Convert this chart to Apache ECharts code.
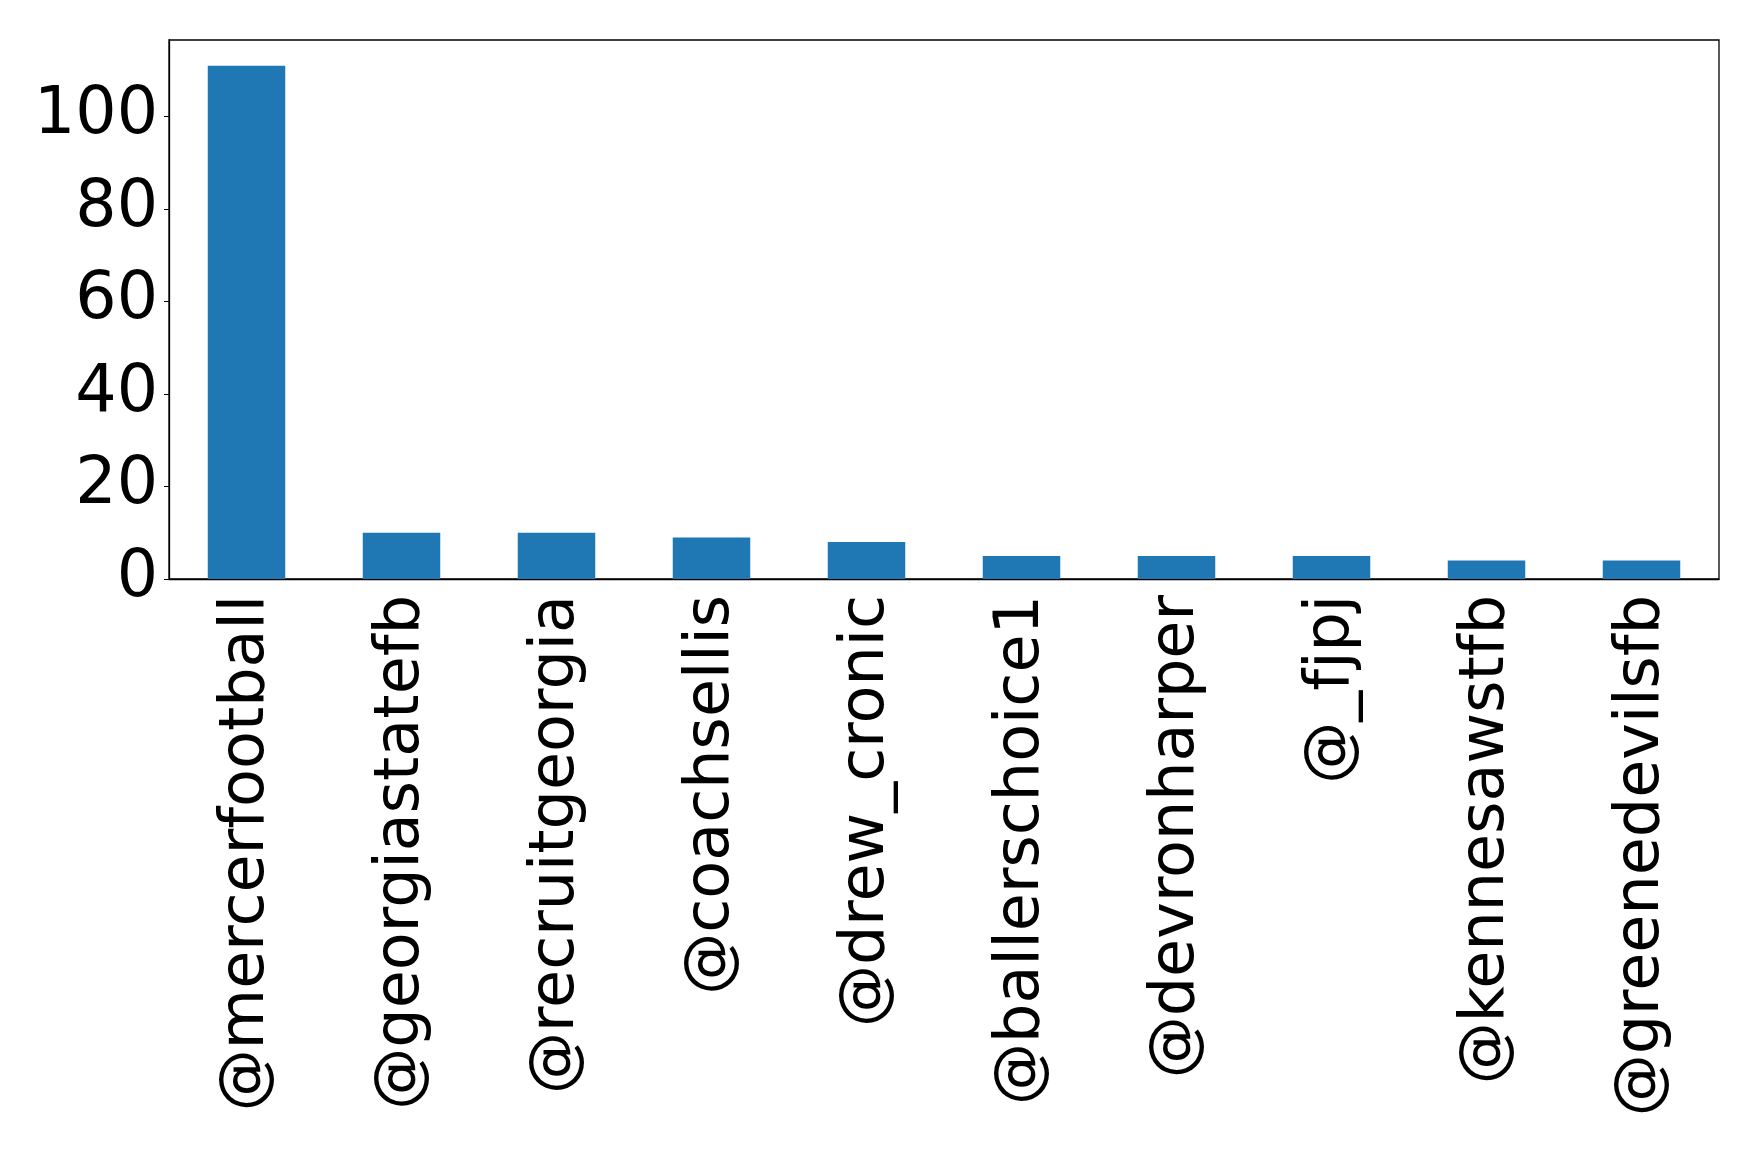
<!DOCTYPE html>
<html>
<head>
    <meta charset="UTF-8">
    <title>mentions</title>
    <script src="https://cdn.jsdelivr.net/npm/echarts@6/dist/echarts.min.js"></script>
    <style>
        html, body { margin: 0; padding: 0; background: #fff; }
        #main { width: 1758px; height: 1154px; }
    </style>
</head>
<body>
<div id="main"></div>
<script type="text/javascript">
    // data
    var handles = ['@mercerfootball', '@georgiastatefb', '@recruitgeorgia', '@coachsellis', '@drew_cronic',
        '@ballerschoice1', '@devronharper', '@_fjpj', '@kennesawstfb', '@greenedevilsfb'];
    var counts = [111, 10, 10, 9, 8, 5, 5, 5, 4, 4];
    var yTicks = [0, 20, 40, 60, 80, 100];

    var myChart = echarts.init(document.getElementById('main'));

    var option = {
        animation: false,
        grid: {
            left: 169,
            right: 39,
            top: 40,
            bottom: 575,
            show: true,
            borderColor: '#000',
            borderWidth: 1.3,
            containLabel: false
        },
        xAxis: {
            type: 'category',
            data: handles,
            boundaryGap: true,
            axisLine: { lineStyle: { color: '#000', width: 1.3 } },
            axisTick: { alignWithLabel: true, length: 5, lineStyle: { color: '#000' } },
            axisLabel: {
                rotate: 90, margin: 16, interval: 0,
                fontFamily: 'DejaVu Sans', fontSize: 62, color: '#000'
            },
            splitLine: { show: false }
        },
        yAxis: {
            type: 'value',
            min: 0,
            max: Math.max.apply(null, counts) * 1.05,
            axisLine: { show: true, lineStyle: { color: '#000', width: 1.3 } },
            axisTick: { show: true, length: 5, customValues: yTicks, lineStyle: { color: '#000' } },
            axisLabel: {
                margin: 11, customValues: yTicks, padding: [6, 0, 0, 0],
                fontFamily: 'DejaVu Sans', fontSize: 65, color: '#000'
            },
            splitLine: { show: false }
        },
        series: [
            {
                type: 'bar',
                data: counts,
                barWidth: '50%',
                itemStyle: { color: '#1f77b4' }
            }
        ]
    };

    myChart.setOption(option);
</script>
</body>
</html>
